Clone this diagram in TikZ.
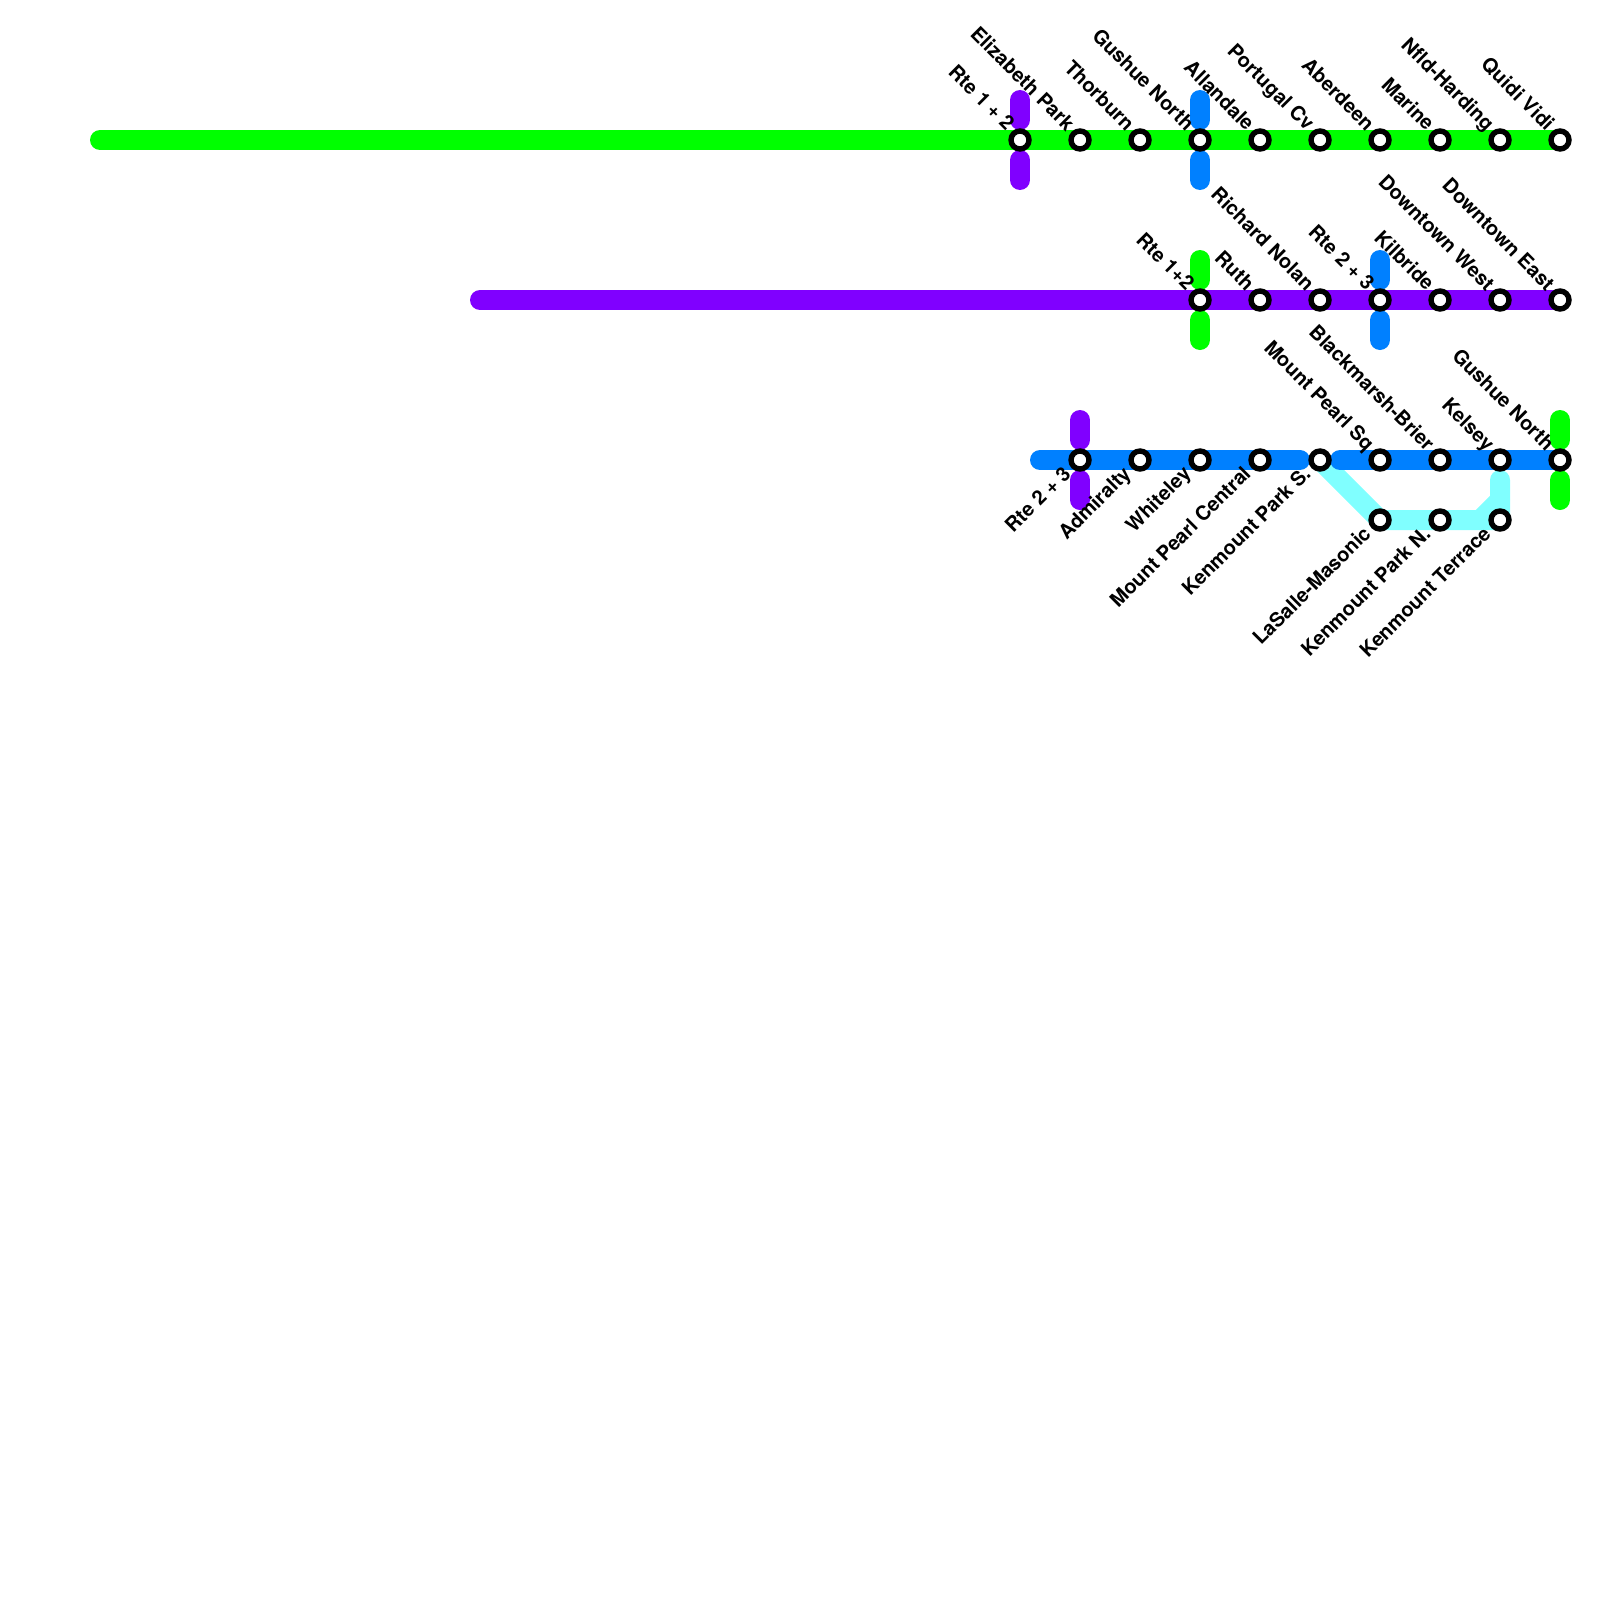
\documentclass[tikz,border=0pt]{standalone}
\usepackage{fontspec}
\setmainfont{TeX Gyre Heros}
\definecolor{lgreen}{RGB}{0,255,0}
\definecolor{lpurple}{RGB}{128,0,255}
\definecolor{lblue}{RGB}{0,128,255}
\definecolor{lcyan}{RGB}{128,255,255}
\tikzset{
  routeline/.style={line width=20pt,line cap=round,line join=round},
  stn/.style={circle,draw=black,fill=white,line width=5.4pt,minimum size=18pt,inner sep=0pt,outer sep=0pt},
  up/.style={font=\bfseries\fontsize{20}{22}\selectfont,rotate=-45,anchor=base east,inner sep=0pt},
  dn/.style={font=\bfseries\fontsize{20}{22}\selectfont,rotate=45,anchor=base east,inner sep=0pt},
}
\begin{document}
\begin{tikzpicture}[x=1pt,y=-1pt]
\useasboundingbox (0,0) rectangle (1600,1600);
\fill[white] (0,0) rectangle (1600,1600);
% station coordinates
\foreach \n/\x/\y in {a/1020/140,b/1080/140,c/1140/140,d/1200/140,e/1260/140,f/1320/140,g/1380/140,h/1440/140,i/1500/140,j/1560/140,
 k/1200/300,l/1260/300,m/1320/300,n/1380/300,o/1440/300,p/1500/300,q/1560/300,
 r/1080/460,s/1140/460,t/1200/460,u/1260/460,v/1320/460,w/1380/460,xx/1440/460,y/1500/460,z/1560/460,
 aa/1380/520,bb/1440/520,cc/1500/520}
 {\coordinate (\n) at (\x,\y);}
\coordinate (gs) at (100,140);
\coordinate (ps) at (480,300);
\coordinate (bs) at (1040,460);
\coordinate (be) at (1300,460);
\coordinate (bt) at (1340,460);
\coordinate (cu) at (1500,480);
\coordinate (cm) at (1500,500);
\coordinate (cb) at (1480,520);
% main lines
\draw[routeline,lcyan] (v) -- (aa) -- (cc) -- (cu);
\draw[routeline,lcyan] (cb) -- (cm);
\draw[routeline,lgreen] (gs) -- (j);
\draw[routeline,lpurple] (ps) -- (q);
\draw[routeline,lblue] (bs) -- (be);
\draw[routeline,lblue] (bt) -- (z);
% transfer stubs
\foreach \p/\c in {a/lpurple,d/lblue,k/lgreen,n/lblue,r/lpurple,z/lgreen}{
  \draw[routeline,\c] ([yshift=40pt]\p) -- ([yshift=20pt]\p);
  \draw[routeline,\c] ([yshift=-20pt]\p) -- ([yshift=-40pt]\p);
}
% stations
\foreach \n in {a,b,c,d,e,f,g,h,i,j,k,l,m,n,o,p,q,r,s,t,u,v,w,xx,y,z,aa,bb,cc}
 {\node[stn] (s\n) at (\n) {};}
% labels above
\foreach \n/\t in {a/Rte 1 + 2,b/Elizabeth Park,c/Thorburn,d/Gushue North,e/Allandale,f/Portugal Cv,g/Aberdeen,h/Marine,i/Nfld-Harding,j/Quidi Vidi,
 k/Rte 1+2,l/Ruth,m/Richard Nolan,n/Rte 2 + 3,o/Kilbride,p/Downtown West,q/Downtown East,
 w/Mount Pearl Sq,xx/Blackmarsh-Brier,y/Kelsey,z/Gushue North}
 {\node[up] (l\n) at ([xshift=-14pt,yshift=8pt]\n) {\t};}
% labels below
\foreach \n/\t in {r/Rte 2 + 3,s/Admiralty,t/Whiteley,u/Mount Pearl Central,v/Kenmount Park S.,aa/LaSalle-Masonic,bb/Kenmount Park N.,cc/Kenmount Terrace}
 {\node[dn] (l\n) at ([xshift=-8pt,yshift=-15pt]\n) {\t};}
\end{tikzpicture}
\end{document}
